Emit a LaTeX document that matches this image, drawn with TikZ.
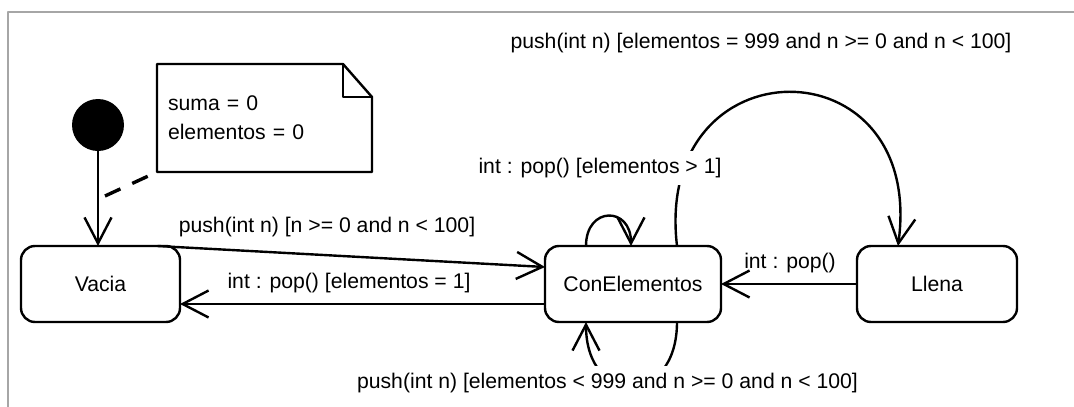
\documentclass[tikz,border=0pt]{standalone}
\usepackage{fontspec}
\setmainfont{Liberation Sans}
\usepackage{tikz}
\usetikzlibrary{arrows.meta}

\begin{document}
\begin{tikzpicture}[x=1pt, y=1pt, >={Straight Barb[length=26pt,width=27pt]},
  font=\fontsize{21.2}{29}\selectfont, line join=round,
  estado/.style={draw, line width=2.4pt, rounded corners=14pt, minimum height=76pt, outer sep=0pt},
  trans/.style={->, line width=2.4pt},
  etiq/.style={inner sep=2pt},
  tapa/.style={fill=white, inner xsep=3pt, inner ysep=7pt}]
  \useasboundingbox (0,0) rectangle (1074,-407);

  % Marco
  \draw[gray!70, line width=1.5pt] (1074,-12) -- (8,-12) -- (8,-407);

  % Estados
  \node[estado, minimum width=159pt] (vacia) at (100.5,-284) {Vacia};
  \node[estado, minimum width=176pt] (conel) at (633,-284) {ConElementos};
  \node[estado, minimum width=160pt] (llena) at (937,-284) {Llena};

  % Estado inicial
  \node[circle, fill=black, minimum size=52pt, inner sep=0pt] (ini) at (98,-125) {};
  \draw[trans] (ini.south) -- (ini.south |- vacia.north);

  % Nota
  \node[minimum width=215pt, minimum height=108pt, text width=193pt, align=left, outer sep=0pt] (nota) at (264.5,-118) {suma = 0\\elementos = 0};
  \draw[line width=2.4pt] (nota.south west) -- (nota.north west) -- ([xshift=-29pt]nota.north east)
    -- ([yshift=-33pt]nota.north east) -- (nota.south east) -- cycle;
  \draw[line width=2.4pt] ([xshift=-29pt]nota.north east) -- ([xshift=-29pt,yshift=-33pt]nota.north east)
    -- ([yshift=-33pt]nota.north east);
  \coordinate (ancla) at (105,-196);
  \draw[line width=3.4pt, dash pattern=on 17pt off 13pt] (ancla) -- (nota.south west);

  % Transiciones entre estados
  \draw[trans] ([xshift=57pt]vacia.north) -- ([yshift=17pt]conel.west);
  \node[etiq] (t1) at (327,-227) {push(int n) [n >= 0 and n < 100]};
  \draw[trans] ([yshift=-20pt]conel.west) -- ([yshift=-20pt]vacia.east);
  \node[etiq] (t2) at (349,-283) {int : pop() [elementos = 1]};
  \draw[trans] (llena.west) -- (conel.east);
  \node[etiq] (t3) at (790,-263) {int : pop()};

  % Bucle grande hacia Llena
  \draw[trans] ([xshift=44pt]conel.north) .. controls +(-24,205) and +(28,205) .. ([xshift=-39pt]llena.north);
  \node[etiq] (t4) at (761,-43) {push(int n) [elementos = 999 and n >= 0 and n < 100]};

  % Auto-transiciones
  \draw[trans] ([xshift=-47pt]conel.north) .. controls +(0,40) and +(0,40) .. ([xshift=-2pt]conel.north);
  \node[tapa] (t5) at (600,-168) {int : pop() [elementos > 1]};
  \draw[trans] ([xshift=44pt]conel.south) .. controls +(0,-85) and +(0,-85) .. ([xshift=-47pt]conel.south);
  \node[tapa] (t6) at (607.5,-383) {push(int n) [elementos < 999 and n >= 0 and n < 100]};
\end{tikzpicture}
\end{document}
